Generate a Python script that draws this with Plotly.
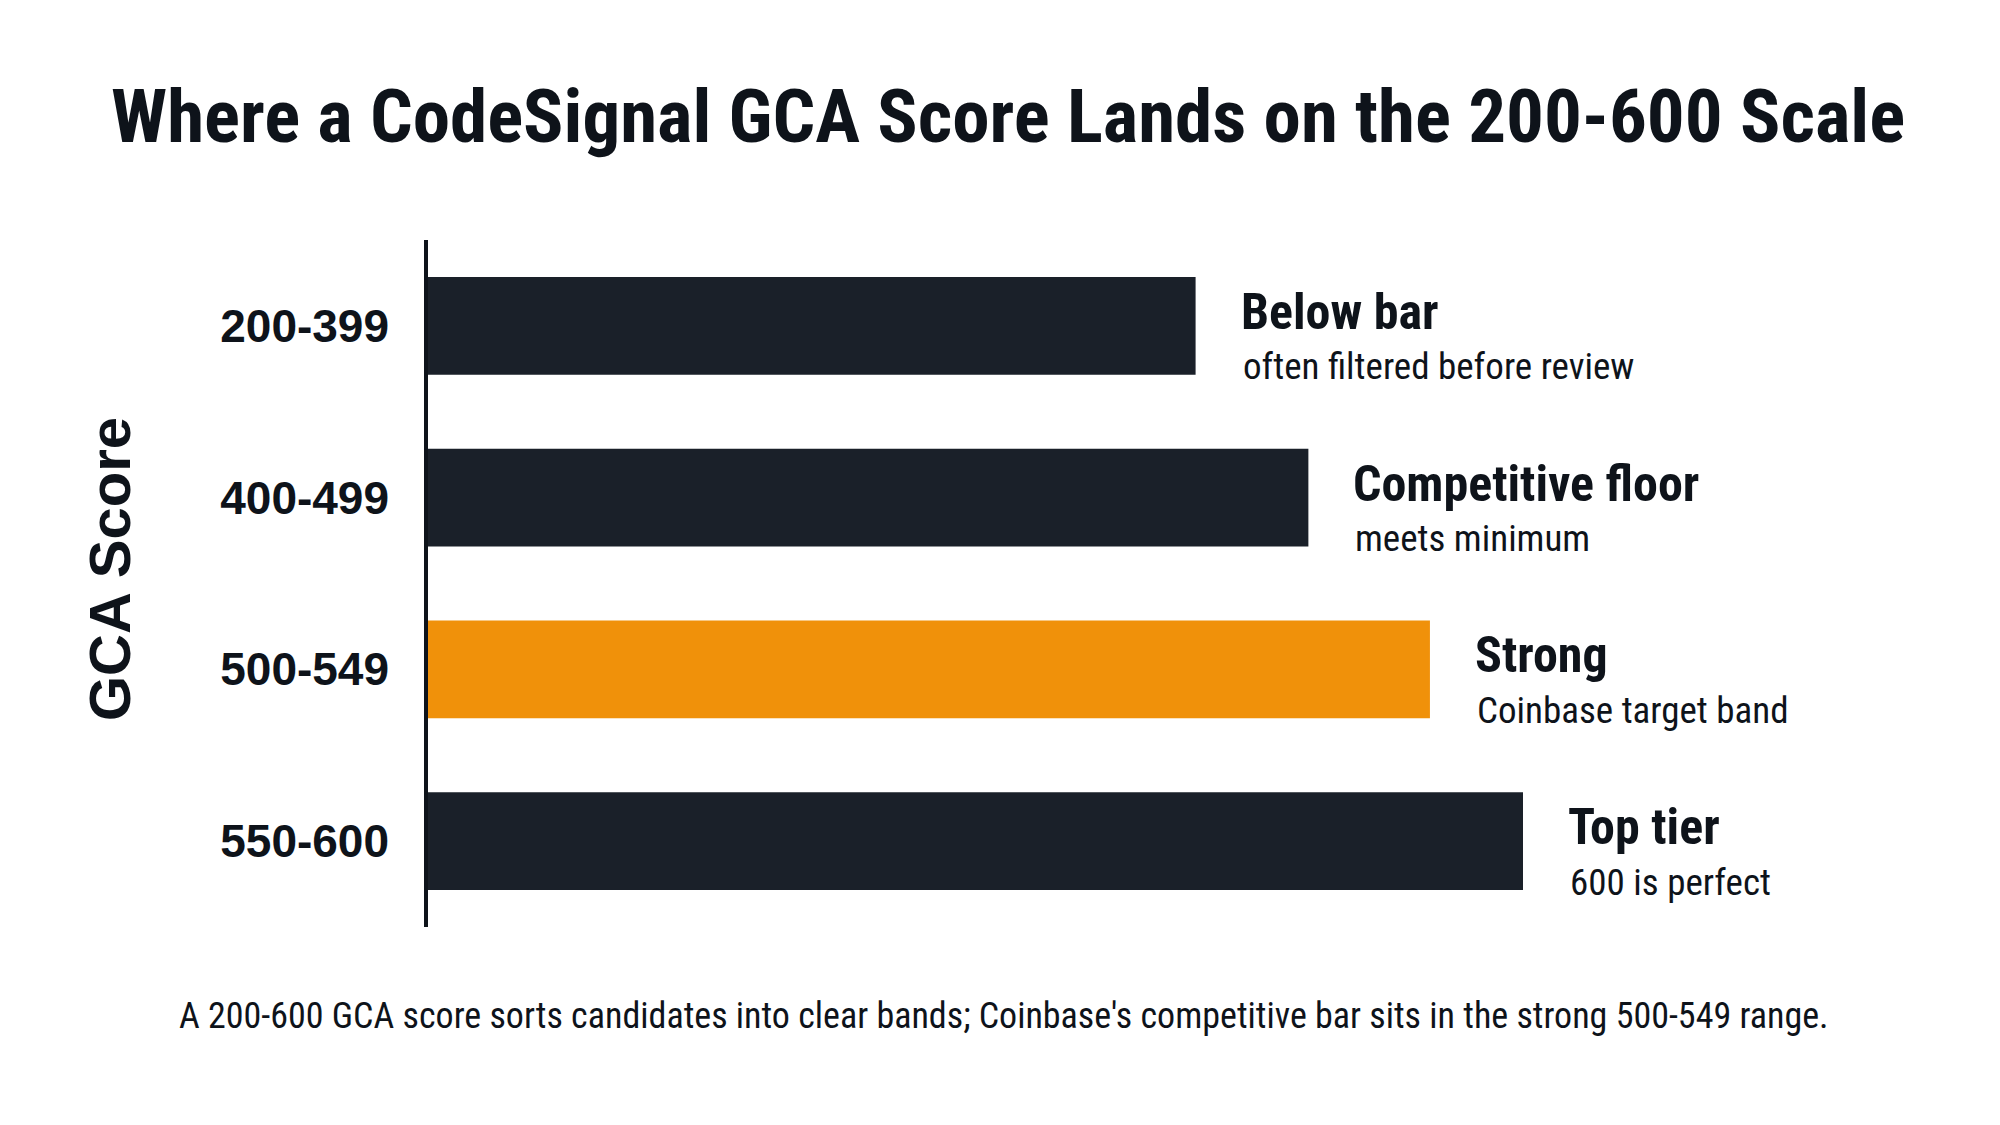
import plotly.graph_objects as go

# score bands, top to bottom
bands = ["200-399", "400-499", "500-549", "550-600"]
# relative bar lengths
bar_len = [70.1, 80.4, 91.5, 100.0]
tier = ["Below bar", "Competitive floor", "Strong", "Top tier"]
note = ["often filtered before review", "meets minimum",
        "Coinbase target band", "600 is perfect"]
highlight = "500-549"

DARK = "#1a2029"
ORANGE = "#f0910a"
INK = "#0e131a"
NARROW = "Roboto Condensed, Liberation Sans Narrow, DejaVu Sans Condensed, sans-serif"
WIDE = "Liberation Sans, Arial, sans-serif"

W, H = 2000, 1125
L, R, T, B = 420, 100, 232, 206
PW, PH = W - L - R, H - T - B

colors = [ORANGE if b == highlight else DARK for b in bands]

fig = go.Figure()
fig.add_trace(go.Bar(
    x=bar_len, y=bands, orientation="h",
    marker=dict(color=colors, line=dict(width=0)),
    hoverinfo="skip", showlegend=False,
))

xmax = 100.0 * PW / 1095.0

for b, v, t, n in zip(bands, bar_len, tier, note):
    fig.add_annotation(x=v, y=b, text="<b>" + t + "</b>", showarrow=False,
                       xanchor="left", yanchor="middle", xshift=43, yshift=14,
                       font=dict(family=NARROW, size=50, color=INK))
    fig.add_annotation(x=v, y=b, text=n, showarrow=False,
                       xanchor="left", yanchor="middle", xshift=45, yshift=-41,
                       font=dict(family=NARROW, size=37, color=INK))

# axis title, rotated
fig.add_annotation(xref="paper", yref="paper",
                   x=(101 - L) / PW, y=(H - B - 561) / PH,
                   xanchor="center", yanchor="middle",
                   text="<b>GCA Score</b>", textangle=-90, showarrow=False,
                   font=dict(family=WIDE, size=58, color=INK))

# caption
fig.add_annotation(xref="paper", yref="paper",
                   x=(996 - L) / PW, y=(H - B - 1008) / PH,
                   text="A 200-600 GCA score sorts candidates into clear bands; "
                        "Coinbase's competitive bar sits in the strong 500-549 range.",
                   showarrow=False, xanchor="center", yanchor="middle",
                   font=dict(family=NARROW, size=36, color=INK))

fig.update_layout(
    width=W, height=H,
    margin=dict(l=L, r=R, t=T, b=B),
    paper_bgcolor="white", plot_bgcolor="white",
    bargap=0.43,
    title=dict(text="<b>Where a CodeSignal GCA Score Lands on the 200-600 Scale</b>",
               x=0.5, xref="container", xanchor="center",
               y=1 - 108 / H, yref="container", yanchor="middle",
               font=dict(family=NARROW, size=75, color=INK)),
)
fig.update_xaxes(range=[0, xmax], visible=False, fixedrange=True)
fig.update_yaxes(autorange="reversed", showline=True, linewidth=3.5, linecolor=INK,
                 showgrid=False, zeroline=False, ticks="", ticklabelstandoff=26,
                 tickfont=dict(family=WIDE, size=46, color=INK, weight="bold"),
                 fixedrange=True)

fig.write_html("out.html")
